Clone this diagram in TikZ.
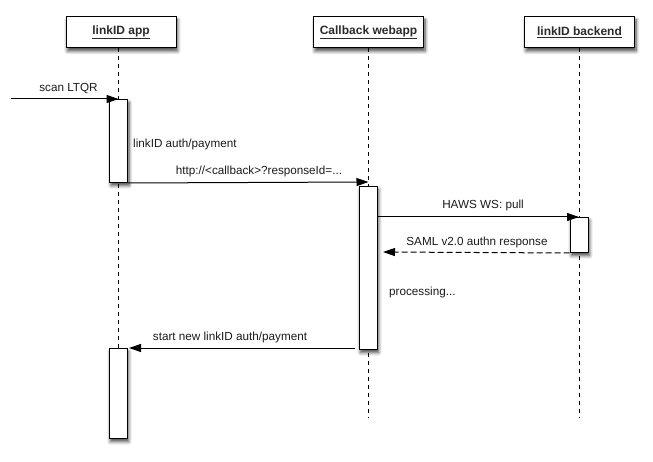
\documentclass[tikz,border=0pt]{standalone}
\usepackage{fontspec}
\setmainfont{Liberation Sans}
\usetikzlibrary{arrows.meta,shadows.blur,calc}
\definecolor{ink}{HTML}{1A1A1A}
\definecolor{hdrink}{HTML}{2B2B2B}
\begin{document}
\begin{tikzpicture}[x=1pt,y=-1pt,
  hdr/.style={draw=black, line width=1pt, fill=white, minimum width=110pt, minimum height=31pt, inner sep=0pt,
    blur shadow={shadow xshift=1.5pt, shadow yshift=-3pt, shadow blur steps=6, shadow blur radius=3.5pt, shadow opacity=75},
    font=\fontsize{12}{14}\selectfont\bfseries, text=hdrink},
  act/.style={draw=black, line width=1pt, fill=white, minimum width=18pt, inner sep=0pt, anchor=north,
    blur shadow={shadow xshift=1.5pt, shadow yshift=-3pt, shadow blur steps=6, shadow blur radius=3.5pt, shadow opacity=75}},
  life/.style={draw=black, line width=1pt, dash pattern=on 4pt off 4pt},
  msg/.style={draw=black, line width=1pt, -{Triangle[length=12pt,width=8pt]}},
  rmsg/.style={msg, dash pattern=on 6pt off 3pt},
  lbl/.style={font=\fontsize{11.7}{13}\selectfont, text=ink, inner sep=0pt},
]
\useasboundingbox (0,0) rectangle (653,462);

% headers
\node[hdr] (app) at (121,32.5) {\underline{linkID app}};
\node[hdr] (cb)  at (368.5,32.5) {\underline{Callback webapp}};
\node[hdr] (be)  at (579.5,32.5) {\underline{linkID backend}};

% lifelines
\coordinate (appTop) at (118,48);
\coordinate (appEnd) at (118,417);
\coordinate (cbEnd)  at (368.5,417);
\coordinate (beEnd)  at (579.5,417);
\draw[life] (appTop) -- (appEnd);
\draw[life] (cb.south) -- (cbEnd);
\draw[life] (be.south) -- (beEnd);

% activations
\node[act, minimum height=83pt] (a1) at (118.5,99) {};
\node[act, minimum height=163pt] (c1) at (368,186) {};
\node[act, minimum height=35pt] (b1) at (579,217) {};
\node[act, minimum height=90pt] (a2) at (118,348) {};

% messages
\coordinate (scanStart) at (11,99);
\draw[msg] (scanStart) -- (a1.north);
\node[lbl] (lscan) at (68.5,89) {scan LTQR};

\node[lbl, anchor=west] (lauth) at (133,144) {linkID auth/payment};

\coordinate (httpTip) at (368.5,182);
\draw[msg] (a1.south east) -- (httpTip);
\node[lbl] (lhttp) at (259,171) {http://<callback>?responseId=...};

\draw[msg] (b1.north -| c1.east) -- (b1.north);
\node[lbl] (lhaws) at (483,205) {HAWS WS: pull};

\coordinate (samlTip) at (383,252);
\draw[rmsg] (b1.south west) -- (samlTip);
\node[lbl] (lsaml) at (477,242) {SAML v2.0 authn response};

\node[lbl, anchor=west] (lproc) at (389,292) {processing...};

\coordinate (startFrom) at (355,348);
\coordinate (startTip) at (129,348);
\draw[msg] (startFrom) -- (startTip);
\node[lbl] (lstart) at (230,337) {start new linkID auth/payment};
\end{tikzpicture}
\end{document}
